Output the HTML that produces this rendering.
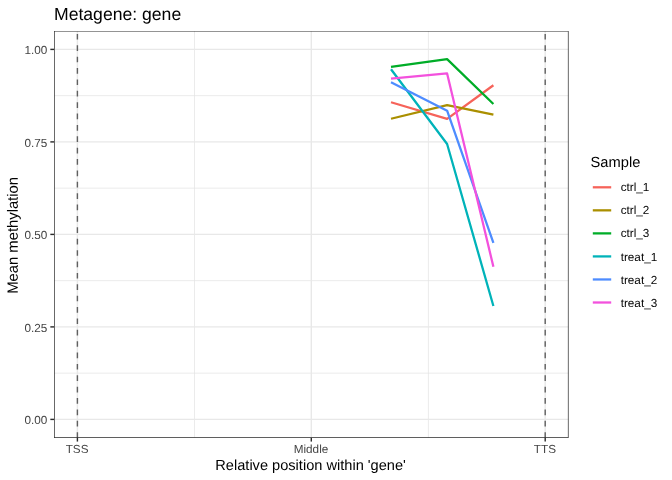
<!DOCTYPE html>
<html>
<head>
<meta charset="utf-8">
<title>Metagene: gene</title>
<style>
html,body{margin:0;padding:0;background:#fff;}
body{width:672px;height:480px;overflow:hidden;position:relative;font-family:"Liberation Sans",sans-serif;}
svg{display:block;position:absolute;left:0;top:0;will-change:transform;}
svg.txt{filter:grayscale(1);}
text{font-family:"Liberation Sans",sans-serif;text-rendering:geometricPrecision;}
</style>
</head>
<body>
<svg width="672" height="480" viewBox="0 0 672 480">
<defs><clipPath id="pc"><rect x="54.0" y="30.9" width="514.6" height="407.0"/></clipPath></defs>
<rect x="0" y="0" width="672" height="480" fill="#ffffff"/>
<g clip-path="url(#pc)">
<g stroke="#E3E3E3" stroke-width="0.71" fill="none">
<line x1="54.0" x2="568.6" y1="373.15" y2="373.15"/>
<line x1="54.0" x2="568.6" y1="280.65" y2="280.65"/>
<line x1="54.0" x2="568.6" y1="188.15" y2="188.15"/>
<line x1="54.0" x2="568.6" y1="95.65" y2="95.65"/>
<line x1="194.5" x2="194.5" y1="30.9" y2="437.9"/>
<line x1="428.4" x2="428.4" y1="30.9" y2="437.9"/>
</g>
<g stroke="#E8E8E8" stroke-width="1.42" fill="none">
<line x1="54.0" x2="568.6" y1="419.4" y2="419.4"/>
<line x1="54.0" x2="568.6" y1="326.9" y2="326.9"/>
<line x1="54.0" x2="568.6" y1="234.4" y2="234.4"/>
<line x1="54.0" x2="568.6" y1="141.9" y2="141.9"/>
<line x1="54.0" x2="568.6" y1="49.4" y2="49.4"/>
<line x1="77.4" x2="77.4" y1="30.9" y2="437.9"/>
<line x1="311.3" x2="311.3" y1="30.9" y2="437.9"/>
<line x1="545.2" x2="545.2" y1="30.9" y2="437.9"/>
</g>
<g stroke="#606060" stroke-width="1.42" stroke-dasharray="5.69 5.69" fill="none">
<line x1="77.4" x2="77.4" y1="437.9" y2="30.9"/>
<line x1="545.2" x2="545.2" y1="437.9" y2="30.9"/>
</g>
<g fill="none" stroke-width="2.28" stroke-linejoin="round" stroke-linecap="butt">
<polyline stroke="#F6635A" points="391.0,102.25 447.1,118.85 493.4,85.25"/>
<polyline stroke="#AA8F00" points="391.0,118.75 447.1,105.05 493.4,114.55"/>
<polyline stroke="#00AD28" points="391.0,66.95 447.1,59.15 493.4,103.95"/>
<polyline stroke="#00B3B9" points="391.0,69.25 447.1,143.95 493.4,305.95"/>
<polyline stroke="#4E8CFF" points="391.0,82.15 447.1,110.65 493.4,242.95"/>
<polyline stroke="#F351DD" points="391.0,78.55 447.1,73.45 493.4,266.75"/>
</g>
<rect x="54.0" y="30.9" width="514.6" height="407.0" fill="none" stroke="#2B2B2B" stroke-width="1.42" stroke-linejoin="round"/>
</g>
<g stroke="#2B2B2B" stroke-width="1.42" fill="none">
<line x1="50.33" x2="54.0" y1="419.4" y2="419.4"/>
<line x1="50.33" x2="54.0" y1="326.9" y2="326.9"/>
<line x1="50.33" x2="54.0" y1="234.4" y2="234.4"/>
<line x1="50.33" x2="54.0" y1="141.9" y2="141.9"/>
<line x1="50.33" x2="54.0" y1="49.4" y2="49.4"/>
<line x1="77.4" x2="77.4" y1="437.9" y2="441.57"/>
<line x1="311.3" x2="311.3" y1="437.9" y2="441.57"/>
<line x1="545.2" x2="545.2" y1="437.9" y2="441.57"/>
</g>
<g stroke-width="2.28" fill="none">
<line x1="592.8" x2="611.2" y1="187.3" y2="187.3" stroke="#F6635A"/>
<line x1="592.8" x2="611.2" y1="210.34" y2="210.34" stroke="#AA8F00"/>
<line x1="592.8" x2="611.2" y1="233.38" y2="233.38" stroke="#00AD28"/>
<line x1="592.8" x2="611.2" y1="256.42" y2="256.42" stroke="#00B3B9"/>
<line x1="592.8" x2="611.2" y1="279.46" y2="279.46" stroke="#4E8CFF"/>
<line x1="592.8" x2="611.2" y1="302.5" y2="302.5" stroke="#F351DD"/>
</g>
</svg>
<svg class="txt" width="672" height="480" viewBox="0 0 672 480">
<g font-size="11.73" fill="#444444" text-anchor="end">
<text x="47.2" y="54.25">1.00</text>
<text x="47.2" y="146.75">0.75</text>
<text x="47.2" y="239.25">0.50</text>
<text x="47.2" y="331.75">0.25</text>
<text x="47.2" y="424.25">0.00</text>
</g>
<g font-size="11.73" fill="#444444" text-anchor="middle">
<text x="77.1" y="452.85">TSS</text>
<text x="311.0" y="452.85">Middle</text>
<text x="544.9" y="452.85">TTS</text>
</g>
<text x="310.6" y="470" font-size="14.6" fill="#000000" text-anchor="middle">Relative position within 'gene'</text>
<text transform="translate(17.8,235.4) rotate(-90.03)" font-size="14.9" textLength="116.8" fill="#000000" text-anchor="middle">Mean methylation</text>
<text x="54.0" y="19.9" font-size="17.6" fill="#000000">Metagene: gene</text>
<text x="590.6" y="166.9" font-size="14.67" fill="#000000">Sample</text>
<g font-size="11.73" fill="#000000">
<text x="620.7" y="191.4">ctrl_1</text>
<text x="620.7" y="214.44">ctrl_2</text>
<text x="620.7" y="237.48">ctrl_3</text>
<text x="620.7" y="260.52">treat_1</text>
<text x="620.7" y="283.56">treat_2</text>
<text x="620.7" y="306.6">treat_3</text>
</g>
</svg>
</body>
</html>
